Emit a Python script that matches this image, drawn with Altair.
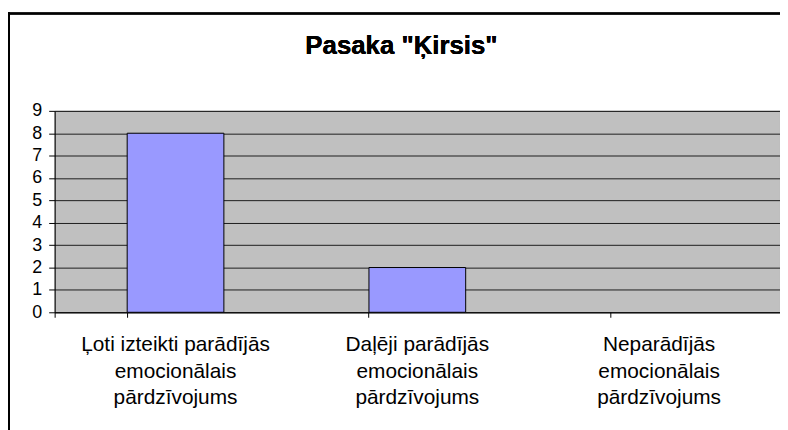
import altair as alt
import pandas as pd

categories = [
    "Ļoti izteikti parādījās|emocionālais|pārdzīvojums",
    "Daļēji parādījās|emocionālais|pārdzīvojums",
    "Neparādījās|emocionālais|pārdzīvojums",
]
values = [8, 2, 0]
y_ticks = list(range(0, 10))
title_text = 'Pasaka "Ķirsis"'

df = pd.DataFrame({"cat": categories, "val": values})
FONT = "Liberation Sans"

bars = alt.Chart(df).mark_bar(color="#9999FF", stroke="black", strokeWidth=1).encode(
    x=alt.X(
        "cat:N",
        sort=categories,
        scale=alt.Scale(paddingInner=0.6, paddingOuter=0.3),
        axis=alt.Axis(
            title=None,
            labelAngle=0,
            labelExpr="split(datum.label, '|')",
            labelFont=FONT,
            labelFontSize=21,
            labelColor="black",
            labelLineHeight=26.5,
            labelPadding=17,
            labelBaseline="top",
            labelLimit=0,
            tickColor="black",
            tickSize=5,
            domainColor="black",
            bandPosition=0,
            tickExtra=True,
            grid=False,
        ),
    ),
    y=alt.Y(
        "val:Q",
        scale=alt.Scale(domain=[0, 9], nice=False),
        axis=alt.Axis(
            title=None,
            values=y_ticks,
            labelFont=FONT,
            labelFontSize=18,
            labelColor="black",
            labelPadding=7,
            tickColor="black",
            tickSize=6,
            domainColor="black",
            grid=True,
            gridColor="black",
            gridOpacity=0.85,
        ),
    ),
    strokeOpacity=alt.condition(alt.datum.val > 0, alt.value(1), alt.value(0)),
)

title = alt.Chart(df).mark_text(
    text=title_text, font=FONT, fontSize=26, fontWeight="bold",
    color="black", align="center", baseline="alphabetic", clip=False,
).encode(x=alt.value(349.5), y=alt.value(-57))

frame_left = alt.Chart(df).mark_rule(color="black", strokeWidth=2, clip=False).encode(
    x=alt.value(-46), y=alt.value(-99), y2=alt.value(330)
)
frame_top = alt.Chart(df).mark_rule(color="black", strokeWidth=2, clip=False).encode(
    x=alt.value(-47), x2=alt.value(800), y=alt.value(-98)
)

chart = alt.layer(bars, title, frame_left, frame_top).properties(
    width=731,
    height=203,
    autosize=alt.AutoSizeParams(type="none"),
    padding={"left": 47, "top": 102, "right": 0, "bottom": 120},
    background="white",
).configure_view(fill="#C0C0C0", stroke="#808080", clip=False)

chart.save("out.html", embed_options={"renderer": "svg", "actions": False})
